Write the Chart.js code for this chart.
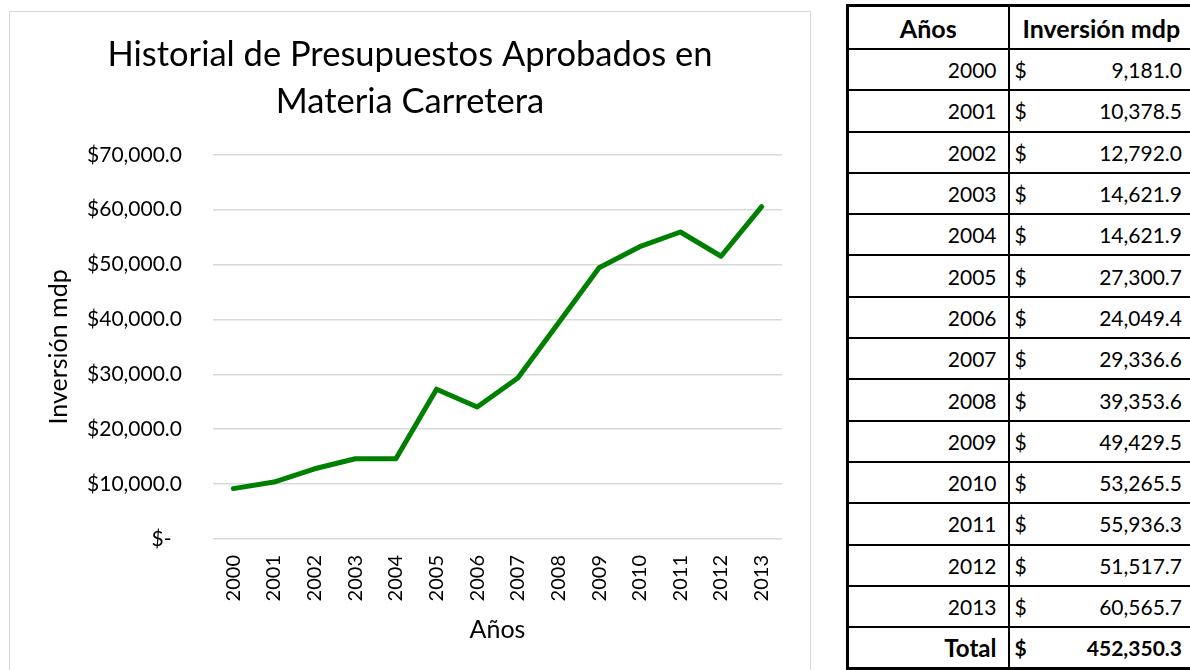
<!DOCTYPE html>
<html>
<head>
<meta charset="utf-8">
<script src="https://cdn.jsdelivr.net/npm/chart.js@4"></script>
<style>
  html, body { margin: 0; padding: 0; background: #fff; overflow: hidden; }
  body { width: 1190px; height: 670px; position: relative; font-family: Lato, sans-serif; }
  #box { position: absolute; left: 9px; top: 11px; width: 800px; height: 690px; border: 1px solid #d9d9d9; }
  #wrap { position: relative; width: 800px; height: 658px; }
  #tabla { position: absolute; left: 846px; top: 4px; width: 346px; table-layout: fixed; border-collapse: collapse; font-size: 21px; color: #000; border: 3px solid #000; }
  #tabla td, #tabla th { border: 2px solid #000; padding: 0; height: 39.3px; white-space: nowrap; }
  #tabla tr:first-child th { height: 41px; }
  .c1 { text-align: right; padding-right: 11px !important; }
  .c2 { padding: 0 10px 0 5px !important; }
  .c2 div { display: flex; justify-content: space-between; }
  th { font-weight: bold; font-size: 25px; }
  th.c1 { text-align: center; padding-right: 0 !important; }
  th.c2 { text-align: left; padding-left: 13px !important; }
  .tot td { font-weight: bold; }
  .tot .c1 { font-size: 24px; }
</style>
</head>
<body>
<div id="box"><div id="wrap"><canvas id="grafica"></canvas></div></div>
<table id="tabla"></table>
<script>
const years = ['2000', '2001', '2002', '2003', '2004', '2005', '2006', '2007', '2008', '2009', '2010', '2011', '2012', '2013'];
const inversion = [9181.0, 10378.5, 12792.0, 14621.9, 14621.9, 27300.7, 24049.4, 29336.6, 39353.6, 49429.5, 53265.5, 55936.3, 51517.7, 60565.7];
const titleLines = ['Historial de Presupuestos Aprobados en', 'Materia Carretera'];
const yTicks = [0, 10000, 20000, 30000, 40000, 50000, 60000, 70000];

const fmt = v => v.toLocaleString('en-US', { minimumFractionDigits: 1, maximumFractionDigits: 1 });

// tabla de la derecha
const tabla = document.getElementById('tabla');
let html = '<colgroup><col style="width:161px"><col style="width:185px"></colgroup>';
html += '<tr><th class="c1">Años</th><th class="c2">Inversión mdp</th></tr>';
years.forEach((y, i) => {
  html += `<tr><td class="c1">${y}</td><td class="c2"><div><span>$</span><span>${fmt(inversion[i])}</span></div></td></tr>`;
});
const total = inversion.reduce((a, b) => a + b, 0);
html += `<tr class="tot"><td class="c1">Total</td><td class="c2"><div><span>$</span><span>${fmt(total)}</span></div></td></tr>`;
tabla.innerHTML = html;

Chart.defaults.font.family = 'Lato';
Chart.defaults.color = '#000';

const ctx = document.getElementById('grafica').getContext('2d');
new Chart(ctx, {
  type: 'line',
  data: {
    labels: years,
    datasets: [{
      label: 'Inversión mdp',
      data: inversion,
      borderColor: '#008000',
      backgroundColor: '#008000',
      borderWidth: 5,
      pointRadius: 0,
      tension: 0,
      borderCapStyle: 'round',
      borderJoinStyle: 'round'
    }]
  },
  options: {
    responsive: true,
    maintainAspectRatio: false,
    animation: false,
    layout: { padding: 0 },
    plugins: {
      legend: { display: false },
      tooltip: { enabled: false },
      title: {
        display: true,
        text: titleLines,
        font: { size: 34.5, weight: 'normal', lineHeight: 1.36 },
        color: '#000',
        padding: { top: 19.5, bottom: 29.5 }
      }
    },
    scales: {
      x: {
        offset: true,
        grid: { display: false },
        border: { display: false },
        ticks: { minRotation: 90, maxRotation: 90, padding: 8, font: { size: 20 } },
        title: { display: true, text: 'Años', font: { size: 25 }, padding: { top: 0, bottom: 25 } },
        afterFit: s => { s.height = 131; }
      },
      y: {
        min: 0,
        max: 70000,
        afterBuildTicks: s => { s.ticks = yTicks.map(v => ({ value: v })); },
        grid: { color: '#d9d9d9', lineWidth: 1.5, drawTicks: false },
        border: { display: false },
        ticks: {
          padding: 31,
          font: { size: 21 },
          callback: v => v === 0 ? '$-\u2002' : '$' + fmt(v)
        },
        title: { display: true, text: 'Inversión mdp', font: { size: 25 }, padding: { top: 34, bottom: 0 } },
        afterFit: s => { s.width = 203; }
      },
      // margen derecho vacío, para que el título quede centrado en todo el ancho
      margen: {
        position: 'right',
        display: true,
        grid: { display: false },
        border: { display: false },
        ticks: { display: false },
        afterFit: s => { s.width = 28; }
      }
    }
  }
});
</script>
</body>
</html>
